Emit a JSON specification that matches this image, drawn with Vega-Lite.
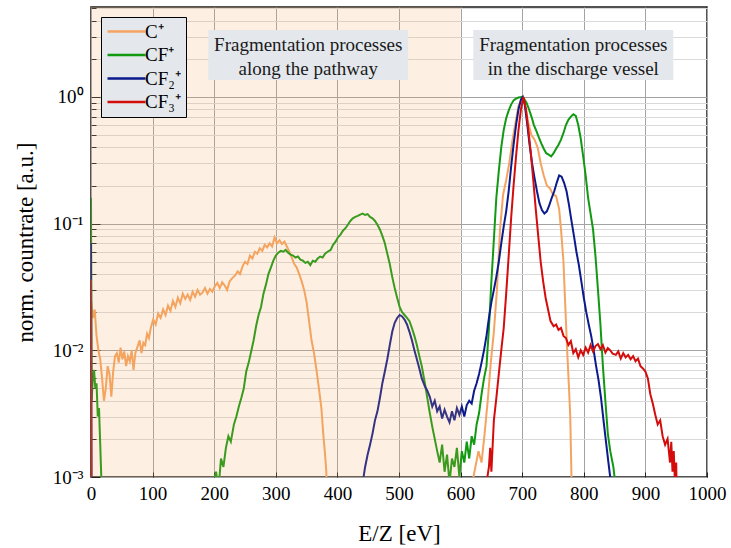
{
  "$schema": "https://vega.github.io/schema/vega-lite/v6.json",
  "width": 616,
  "height": 470,
  "autosize": {"type": "none"},
  "padding": {"left": 91, "top": 7, "right": 24, "bottom": 71},
  "background": "white",
  "config": {
    "view": {"stroke": "#1a1a1a", "strokeWidth": 1.5},
    "font": "Liberation Serif"
  },
  "datasets": {
    "curves": [
      {"s":"C⁺","e":0,"v":0.025},{"s":"C⁺","e":3,"v":0.018},{"s":"C⁺","e":6,"v":0.021},{"s":"C⁺","e":9,"v":0.013},{"s":"C⁺","e":12,"v":0.010},{"s":"C⁺","e":15,"v":0.0085},{"s":"C⁺","e":18,"v":0.006},{"s":"C⁺","e":21,"v":0.004},{"s":"C⁺","e":24,"v":0.005},{"s":"C⁺","e":27,"v":0.0075},{"s":"C⁺","e":30,"v":0.0065},{"s":"C⁺","e":33,"v":0.0043},{"s":"C⁺","e":36,"v":0.0068},{"s":"C⁺","e":39,"v":0.009},{"s":"C⁺","e":42,"v":0.0095},{"s":"C⁺","e":45,"v":0.008},{"s":"C⁺","e":48,"v":0.0105},{"s":"C⁺","e":51,"v":0.0085},{"s":"C⁺","e":54,"v":0.0098},{"s":"C⁺","e":57,"v":0.0075},{"s":"C⁺","e":60,"v":0.009},{"s":"C⁺","e":63,"v":0.0082},{"s":"C⁺","e":66,"v":0.010},{"s":"C⁺","e":69,"v":0.007},{"s":"C⁺","e":72,"v":0.0095},{"s":"C⁺","e":75,"v":0.0105},
      {"s":"C⁺","e":79,"v":0.012},{"s":"C⁺","e":82,"v":0.0095},{"s":"C⁺","e":85,"v":0.0115},{"s":"C⁺","e":88,"v":0.011},{"s":"C⁺","e":91,"v":0.0135},{"s":"C⁺","e":94,"v":0.0125},{"s":"C⁺","e":97,"v":0.015},{"s":"C⁺","e":101,"v":0.0175},{"s":"C⁺","e":105,"v":0.016},{"s":"C⁺","e":109,"v":0.0195},{"s":"C⁺","e":113,"v":0.018},{"s":"C⁺","e":117,"v":0.021},{"s":"C⁺","e":121,"v":0.019},{"s":"C⁺","e":125,"v":0.0225},{"s":"C⁺","e":129,"v":0.0205},{"s":"C⁺","e":133,"v":0.0245},{"s":"C⁺","e":137,"v":0.022},{"s":"C⁺","e":141,"v":0.026},{"s":"C⁺","e":145,"v":0.0235},{"s":"C⁺","e":149,"v":0.028},{"s":"C⁺","e":153,"v":0.0255},{"s":"C⁺","e":157,"v":0.0275},{"s":"C⁺","e":161,"v":0.025},{"s":"C⁺","e":165,"v":0.029},{"s":"C⁺","e":169,"v":0.0265},{"s":"C⁺","e":173,"v":0.030},{"s":"C⁺","e":177,"v":0.0275},{"s":"C⁺","e":181,"v":0.0285},{"s":"C⁺","e":185,"v":0.031},{"s":"C⁺","e":189,"v":0.028},{"s":"C⁺","e":193,"v":0.0305},{"s":"C⁺","e":197,"v":0.029},{"s":"C⁺","e":201,"v":0.032},{"s":"C⁺","e":205,"v":0.034},{"s":"C⁺","e":209,"v":0.031},{"s":"C⁺","e":213,"v":0.0345},{"s":"C⁺","e":217,"v":0.0325},{"s":"C⁺","e":221,"v":0.030},{"s":"C⁺","e":225,"v":0.035},{"s":"C⁺","e":229,"v":0.037},
      {"s":"C⁺","e":234,"v":0.039},{"s":"C⁺","e":238,"v":0.042},{"s":"C⁺","e":242,"v":0.040},{"s":"C⁺","e":246,"v":0.046},{"s":"C⁺","e":250,"v":0.050},{"s":"C⁺","e":254,"v":0.048},{"s":"C⁺","e":258,"v":0.056},{"s":"C⁺","e":262,"v":0.053},{"s":"C⁺","e":266,"v":0.060},{"s":"C⁺","e":270,"v":0.058},{"s":"C⁺","e":274,"v":0.064},{"s":"C⁺","e":278,"v":0.061},{"s":"C⁺","e":282,"v":0.068},{"s":"C⁺","e":286,"v":0.065},{"s":"C⁺","e":290,"v":0.070},{"s":"C⁺","e":294,"v":0.066},{"s":"C⁺","e":298,"v":0.078},{"s":"C⁺","e":302,"v":0.070},{"s":"C⁺","e":306,"v":0.074},{"s":"C⁺","e":310,"v":0.069},{"s":"C⁺","e":314,"v":0.072},{"s":"C⁺","e":318,"v":0.066},{"s":"C⁺","e":322,"v":0.060},{"s":"C⁺","e":326,"v":0.054},{"s":"C⁺","e":330,"v":0.048},{"s":"C⁺","e":334,"v":0.045},{"s":"C⁺","e":338,"v":0.040},{"s":"C⁺","e":342,"v":0.035},{"s":"C⁺","e":346,"v":0.030},{"s":"C⁺","e":350,"v":0.024},{"s":"C⁺","e":354,"v":0.017},{"s":"C⁺","e":358,"v":0.012},{"s":"C⁺","e":362,"v":0.0095},{"s":"C⁺","e":366,"v":0.007},{"s":"C⁺","e":370,"v":0.005},{"s":"C⁺","e":374,"v":0.0035},{"s":"C⁺","e":377,"v":0.0022},{"s":"C⁺","e":380,"v":0.0015},{"s":"C⁺","e":382,"v":0.0011},{"s":"C⁺","e":384,"v":0.0004},
      {"s":"C⁺","e":609,"v":0.0004},{"s":"C⁺","e":619,"v":0.0009},{"s":"C⁺","e":624,"v":0.0012},{"s":"C⁺","e":629,"v":0.0016},{"s":"C⁺","e":634,"v":0.0013},{"s":"C⁺","e":639,"v":0.0022},{"s":"C⁺","e":644,"v":0.004},{"s":"C⁺","e":649,"v":0.008},{"s":"C⁺","e":654,"v":0.014},{"s":"C⁺","e":659,"v":0.03},{"s":"C⁺","e":664,"v":0.09},{"s":"C⁺","e":669,"v":0.17},{"s":"C⁺","e":674,"v":0.22},{"s":"C⁺","e":679,"v":0.30},{"s":"C⁺","e":684,"v":0.45},{"s":"C⁺","e":689,"v":0.62},{"s":"C⁺","e":694,"v":0.85},{"s":"C⁺","e":700,"v":1.0},{"s":"C⁺","e":705,"v":0.85},{"s":"C⁺","e":710,"v":0.62},{"s":"C⁺","e":715,"v":0.50},{"s":"C⁺","e":720,"v":0.46},{"s":"C⁺","e":725,"v":0.40},{"s":"C⁺","e":730,"v":0.30},{"s":"C⁺","e":735,"v":0.24},{"s":"C⁺","e":740,"v":0.20},{"s":"C⁺","e":745,"v":0.19},{"s":"C⁺","e":750,"v":0.17},{"s":"C⁺","e":755,"v":0.165},{"s":"C⁺","e":760,"v":0.13},{"s":"C⁺","e":763,"v":0.09},{"s":"C⁺","e":767,"v":0.05},{"s":"C⁺","e":770,"v":0.022},{"s":"C⁺","e":773,"v":0.010},{"s":"C⁺","e":776,"v":0.005},{"s":"C⁺","e":778,"v":0.003},{"s":"C⁺","e":780,"v":0.001},{"s":"C⁺","e":782,"v":0.0004},

      {"s":"CF⁺","e":0,"v":0.16},{"s":"CF⁺","e":1,"v":0.004},{"s":"CF⁺","e":3,"v":0.006},{"s":"CF⁺","e":5,"v":0.007},{"s":"CF⁺","e":7,"v":0.005},{"s":"CF⁺","e":9,"v":0.0055},{"s":"CF⁺","e":11,"v":0.003},{"s":"CF⁺","e":13,"v":0.0035},{"s":"CF⁺","e":15,"v":0.0018},{"s":"CF⁺","e":17,"v":0.0009},{"s":"CF⁺","e":19,"v":0.0003},
      {"s":"CF⁺","e":191,"v":0.0003},{"s":"CF⁺","e":199,"v":0.0009},{"s":"CF⁺","e":203,"v":0.0011},{"s":"CF⁺","e":207,"v":0.0008},{"s":"CF⁺","e":211,"v":0.0014},{"s":"CF⁺","e":215,"v":0.0012},{"s":"CF⁺","e":219,"v":0.0017},{"s":"CF⁺","e":223,"v":0.0021},{"s":"CF⁺","e":227,"v":0.0019},{"s":"CF⁺","e":232,"v":0.0026},{"s":"CF⁺","e":236,"v":0.003},{"s":"CF⁺","e":240,"v":0.0036},{"s":"CF⁺","e":244,"v":0.0042},{"s":"CF⁺","e":248,"v":0.005},{"s":"CF⁺","e":252,"v":0.0068},{"s":"CF⁺","e":256,"v":0.008},{"s":"CF⁺","e":260,"v":0.0098},{"s":"CF⁺","e":264,"v":0.012},{"s":"CF⁺","e":268,"v":0.0155},{"s":"CF⁺","e":272,"v":0.019},{"s":"CF⁺","e":276,"v":0.022},{"s":"CF⁺","e":280,"v":0.028},{"s":"CF⁺","e":284,"v":0.033},{"s":"CF⁺","e":288,"v":0.040},{"s":"CF⁺","e":292,"v":0.045},{"s":"CF⁺","e":296,"v":0.051},{"s":"CF⁺","e":300,"v":0.056},{"s":"CF⁺","e":304,"v":0.059},{"s":"CF⁺","e":308,"v":0.061},{"s":"CF⁺","e":312,"v":0.060},{"s":"CF⁺","e":316,"v":0.062},{"s":"CF⁺","e":320,"v":0.059},{"s":"CF⁺","e":324,"v":0.057},{"s":"CF⁺","e":328,"v":0.056},{"s":"CF⁺","e":332,"v":0.054},{"s":"CF⁺","e":336,"v":0.055},{"s":"CF⁺","e":340,"v":0.052},{"s":"CF⁺","e":344,"v":0.051},{"s":"CF⁺","e":348,"v":0.049},{"s":"CF⁺","e":352,"v":0.050},{"s":"CF⁺","e":356,"v":0.047},{"s":"CF⁺","e":360,"v":0.051},{"s":"CF⁺","e":364,"v":0.050},{"s":"CF⁺","e":368,"v":0.053},{"s":"CF⁺","e":372,"v":0.055},{"s":"CF⁺","e":376,"v":0.054},{"s":"CF⁺","e":380,"v":0.058},{"s":"CF⁺","e":384,"v":0.060},
      {"s":"CF⁺","e":389,"v":0.062},{"s":"CF⁺","e":393,"v":0.068},{"s":"CF⁺","e":397,"v":0.072},{"s":"CF⁺","e":401,"v":0.078},{"s":"CF⁺","e":405,"v":0.082},{"s":"CF⁺","e":409,"v":0.088},{"s":"CF⁺","e":413,"v":0.092},{"s":"CF⁺","e":417,"v":0.098},{"s":"CF⁺","e":421,"v":0.105},{"s":"CF⁺","e":425,"v":0.110},{"s":"CF⁺","e":429,"v":0.113},{"s":"CF⁺","e":433,"v":0.115},{"s":"CF⁺","e":437,"v":0.118},{"s":"CF⁺","e":441,"v":0.120},{"s":"CF⁺","e":445,"v":0.117},{"s":"CF⁺","e":449,"v":0.119},{"s":"CF⁺","e":453,"v":0.113},{"s":"CF⁺","e":457,"v":0.110},{"s":"CF⁺","e":461,"v":0.105},{"s":"CF⁺","e":465,"v":0.098},{"s":"CF⁺","e":469,"v":0.090},{"s":"CF⁺","e":473,"v":0.080},{"s":"CF⁺","e":477,"v":0.070},{"s":"CF⁺","e":481,"v":0.058},{"s":"CF⁺","e":485,"v":0.048},{"s":"CF⁺","e":489,"v":0.038},{"s":"CF⁺","e":493,"v":0.031},{"s":"CF⁺","e":497,"v":0.026},{"s":"CF⁺","e":501,"v":0.022},{"s":"CF⁺","e":505,"v":0.020},{"s":"CF⁺","e":509,"v":0.019},{"s":"CF⁺","e":513,"v":0.018},{"s":"CF⁺","e":517,"v":0.017},{"s":"CF⁺","e":521,"v":0.015},{"s":"CF⁺","e":525,"v":0.013},{"s":"CF⁺","e":529,"v":0.011},{"s":"CF⁺","e":533,"v":0.009},{"s":"CF⁺","e":537,"v":0.0075},
      {"s":"CF⁺","e":542,"v":0.0055},{"s":"CF⁺","e":546,"v":0.0042},{"s":"CF⁺","e":550,"v":0.0032},{"s":"CF⁺","e":554,"v":0.0025},{"s":"CF⁺","e":558,"v":0.002},{"s":"CF⁺","e":562,"v":0.0016},{"s":"CF⁺","e":566,"v":0.0013},{"s":"CF⁺","e":570,"v":0.0018},{"s":"CF⁺","e":574,"v":0.0011},{"s":"CF⁺","e":578,"v":0.0015},{"s":"CF⁺","e":582,"v":0.0009},{"s":"CF⁺","e":586,"v":0.0014},{"s":"CF⁺","e":590,"v":0.0012},{"s":"CF⁺","e":594,"v":0.0017},{"s":"CF⁺","e":598,"v":0.001},{"s":"CF⁺","e":602,"v":0.0016},{"s":"CF⁺","e":606,"v":0.0013},{"s":"CF⁺","e":610,"v":0.0019},{"s":"CF⁺","e":614,"v":0.0014},{"s":"CF⁺","e":618,"v":0.0021},{"s":"CF⁺","e":622,"v":0.0018},{"s":"CF⁺","e":626,"v":0.0026},{"s":"CF⁺","e":630,"v":0.0032},{"s":"CF⁺","e":634,"v":0.0045},{"s":"CF⁺","e":638,"v":0.006},{"s":"CF⁺","e":642,"v":0.0075},{"s":"CF⁺","e":646,"v":0.015},{"s":"CF⁺","e":650,"v":0.035},{"s":"CF⁺","e":654,"v":0.075},{"s":"CF⁺","e":658,"v":0.16},{"s":"CF⁺","e":662,"v":0.26},{"s":"CF⁺","e":666,"v":0.40},{"s":"CF⁺","e":670,"v":0.55},{"s":"CF⁺","e":674,"v":0.68},{"s":"CF⁺","e":678,"v":0.78},{"s":"CF⁺","e":682,"v":0.87},{"s":"CF⁺","e":686,"v":0.94},{"s":"CF⁺","e":690,"v":0.97},{"s":"CF⁺","e":694,"v":0.99},
      {"s":"CF⁺","e":699,"v":1.0},{"s":"CF⁺","e":703,"v":0.97},{"s":"CF⁺","e":707,"v":0.90},{"s":"CF⁺","e":711,"v":0.80},{"s":"CF⁺","e":715,"v":0.70},{"s":"CF⁺","e":719,"v":0.60},{"s":"CF⁺","e":723,"v":0.54},{"s":"CF⁺","e":727,"v":0.48},{"s":"CF⁺","e":731,"v":0.43},{"s":"CF⁺","e":735,"v":0.39},{"s":"CF⁺","e":739,"v":0.36},{"s":"CF⁺","e":743,"v":0.35},{"s":"CF⁺","e":747,"v":0.34},{"s":"CF⁺","e":751,"v":0.36},{"s":"CF⁺","e":755,"v":0.39},{"s":"CF⁺","e":759,"v":0.42},{"s":"CF⁺","e":763,"v":0.46},{"s":"CF⁺","e":767,"v":0.52},{"s":"CF⁺","e":771,"v":0.60},{"s":"CF⁺","e":775,"v":0.66},{"s":"CF⁺","e":779,"v":0.70},{"s":"CF⁺","e":783,"v":0.73},{"s":"CF⁺","e":787,"v":0.71},{"s":"CF⁺","e":791,"v":0.60},{"s":"CF⁺","e":795,"v":0.47},{"s":"CF⁺","e":799,"v":0.34},{"s":"CF⁺","e":803,"v":0.24},{"s":"CF⁺","e":807,"v":0.16},{"s":"CF⁺","e":811,"v":0.12},{"s":"CF⁺","e":815,"v":0.09},{"s":"CF⁺","e":819,"v":0.055},{"s":"CF⁺","e":823,"v":0.030},{"s":"CF⁺","e":827,"v":0.016},{"s":"CF⁺","e":831,"v":0.0075},{"s":"CF⁺","e":835,"v":0.004},{"s":"CF⁺","e":839,"v":0.0022},{"s":"CF⁺","e":843,"v":0.0016},{"s":"CF⁺","e":848,"v":0.0012},{"s":"CF⁺","e":851,"v":0.0009},{"s":"CF⁺","e":854,"v":0.0003},

      {"s":"CF₂⁺","e":0,"v":0.07},{"s":"CF₂⁺","e":1,"v":0.0003},{"s":"CF₂⁺","e":433,"v":0.0003},{"s":"CF₂⁺","e":441,"v":0.0009},{"s":"CF₂⁺","e":445,"v":0.0012},{"s":"CF₂⁺","e":449,"v":0.0015},{"s":"CF₂⁺","e":453,"v":0.0018},{"s":"CF₂⁺","e":457,"v":0.0022},{"s":"CF₂⁺","e":461,"v":0.0028},{"s":"CF₂⁺","e":465,"v":0.0033},{"s":"CF₂⁺","e":469,"v":0.0042},{"s":"CF₂⁺","e":473,"v":0.0055},{"s":"CF₂⁺","e":477,"v":0.0068},{"s":"CF₂⁺","e":481,"v":0.0085},{"s":"CF₂⁺","e":485,"v":0.011},{"s":"CF₂⁺","e":489,"v":0.014},{"s":"CF₂⁺","e":493,"v":0.0165},{"s":"CF₂⁺","e":497,"v":0.018},{"s":"CF₂⁺","e":501,"v":0.019},{"s":"CF₂⁺","e":505,"v":0.0185},{"s":"CF₂⁺","e":509,"v":0.0175},{"s":"CF₂⁺","e":513,"v":0.016},{"s":"CF₂⁺","e":517,"v":0.014},{"s":"CF₂⁺","e":521,"v":0.012},{"s":"CF₂⁺","e":525,"v":0.010},{"s":"CF₂⁺","e":529,"v":0.0085},{"s":"CF₂⁺","e":533,"v":0.0072},{"s":"CF₂⁺","e":537,"v":0.006},
      {"s":"CF₂⁺","e":542,"v":0.0052},{"s":"CF₂⁺","e":546,"v":0.0048},{"s":"CF₂⁺","e":550,"v":0.0043},{"s":"CF₂⁺","e":554,"v":0.0036},{"s":"CF₂⁺","e":558,"v":0.004},{"s":"CF₂⁺","e":562,"v":0.0033},{"s":"CF₂⁺","e":566,"v":0.0036},{"s":"CF₂⁺","e":570,"v":0.0029},{"s":"CF₂⁺","e":574,"v":0.0034},{"s":"CF₂⁺","e":578,"v":0.003},{"s":"CF₂⁺","e":582,"v":0.0027},{"s":"CF₂⁺","e":586,"v":0.0033},{"s":"CF₂⁺","e":590,"v":0.0028},{"s":"CF₂⁺","e":594,"v":0.0035},{"s":"CF₂⁺","e":598,"v":0.0031},{"s":"CF₂⁺","e":602,"v":0.0036},{"s":"CF₂⁺","e":606,"v":0.003},{"s":"CF₂⁺","e":610,"v":0.0037},{"s":"CF₂⁺","e":614,"v":0.004},{"s":"CF₂⁺","e":618,"v":0.0038},{"s":"CF₂⁺","e":622,"v":0.0048},{"s":"CF₂⁺","e":626,"v":0.0055},{"s":"CF₂⁺","e":630,"v":0.0065},{"s":"CF₂⁺","e":634,"v":0.008},{"s":"CF₂⁺","e":638,"v":0.010},{"s":"CF₂⁺","e":642,"v":0.013},{"s":"CF₂⁺","e":646,"v":0.018},{"s":"CF₂⁺","e":650,"v":0.024},{"s":"CF₂⁺","e":654,"v":0.030},{"s":"CF₂⁺","e":658,"v":0.038},{"s":"CF₂⁺","e":662,"v":0.05},{"s":"CF₂⁺","e":666,"v":0.07},{"s":"CF₂⁺","e":670,"v":0.095},{"s":"CF₂⁺","e":674,"v":0.125},{"s":"CF₂⁺","e":678,"v":0.18},{"s":"CF₂⁺","e":682,"v":0.28},{"s":"CF₂⁺","e":686,"v":0.42},{"s":"CF₂⁺","e":690,"v":0.60},{"s":"CF₂⁺","e":694,"v":0.80},
      {"s":"CF₂⁺","e":698,"v":0.95},{"s":"CF₂⁺","e":701,"v":1.0},{"s":"CF₂⁺","e":704,"v":0.88},{"s":"CF₂⁺","e":708,"v":0.62},{"s":"CF₂⁺","e":712,"v":0.42},{"s":"CF₂⁺","e":716,"v":0.30},{"s":"CF₂⁺","e":720,"v":0.23},{"s":"CF₂⁺","e":724,"v":0.18},{"s":"CF₂⁺","e":728,"v":0.145},{"s":"CF₂⁺","e":732,"v":0.128},{"s":"CF₂⁺","e":736,"v":0.12},{"s":"CF₂⁺","e":740,"v":0.125},{"s":"CF₂⁺","e":744,"v":0.14},{"s":"CF₂⁺","e":748,"v":0.16},{"s":"CF₂⁺","e":752,"v":0.18},{"s":"CF₂⁺","e":756,"v":0.21},{"s":"CF₂⁺","e":760,"v":0.24},{"s":"CF₂⁺","e":764,"v":0.235},{"s":"CF₂⁺","e":768,"v":0.21},{"s":"CF₂⁺","e":772,"v":0.18},{"s":"CF₂⁺","e":776,"v":0.14},{"s":"CF₂⁺","e":780,"v":0.105},{"s":"CF₂⁺","e":784,"v":0.08},{"s":"CF₂⁺","e":788,"v":0.06},{"s":"CF₂⁺","e":792,"v":0.047},{"s":"CF₂⁺","e":796,"v":0.035},{"s":"CF₂⁺","e":800,"v":0.026},{"s":"CF₂⁺","e":804,"v":0.020},{"s":"CF₂⁺","e":808,"v":0.016},{"s":"CF₂⁺","e":812,"v":0.013},{"s":"CF₂⁺","e":816,"v":0.010},{"s":"CF₂⁺","e":820,"v":0.0075},{"s":"CF₂⁺","e":824,"v":0.0058},{"s":"CF₂⁺","e":828,"v":0.0042},{"s":"CF₂⁺","e":832,"v":0.0028},{"s":"CF₂⁺","e":836,"v":0.0019},{"s":"CF₂⁺","e":840,"v":0.0013},{"s":"CF₂⁺","e":844,"v":0.0009},{"s":"CF₂⁺","e":849,"v":0.0003},

      {"s":"CF₃⁺","e":0,"v":0.036},{"s":"CF₃⁺","e":1,"v":0.0003},{"s":"CF₃⁺","e":636,"v":0.0003},{"s":"CF₃⁺","e":642,"v":0.0009},{"s":"CF₃⁺","e":646,"v":0.0012},{"s":"CF₃⁺","e":648,"v":0.0017},{"s":"CF₃⁺","e":650,"v":0.0011},{"s":"CF₃⁺","e":654,"v":0.0028},{"s":"CF₃⁺","e":658,"v":0.0042},{"s":"CF₃⁺","e":662,"v":0.0065},{"s":"CF₃⁺","e":666,"v":0.010},{"s":"CF₃⁺","e":670,"v":0.015},{"s":"CF₃⁺","e":674,"v":0.028},{"s":"CF₃⁺","e":678,"v":0.055},{"s":"CF₃⁺","e":682,"v":0.11},{"s":"CF₃⁺","e":686,"v":0.20},{"s":"CF₃⁺","e":690,"v":0.34},{"s":"CF₃⁺","e":694,"v":0.55},{"s":"CF₃⁺","e":698,"v":0.80},{"s":"CF₃⁺","e":702,"v":1.0},{"s":"CF₃⁺","e":706,"v":0.80},{"s":"CF₃⁺","e":710,"v":0.55},{"s":"CF₃⁺","e":714,"v":0.36},{"s":"CF₃⁺","e":718,"v":0.22},{"s":"CF₃⁺","e":722,"v":0.13},{"s":"CF₃⁺","e":726,"v":0.080},{"s":"CF₃⁺","e":730,"v":0.050},{"s":"CF₃⁺","e":734,"v":0.035},{"s":"CF₃⁺","e":738,"v":0.026},{"s":"CF₃⁺","e":742,"v":0.021},{"s":"CF₃⁺","e":746,"v":0.017},{"s":"CF₃⁺","e":751,"v":0.0155},{"s":"CF₃⁺","e":755,"v":0.016},{"s":"CF₃⁺","e":759,"v":0.0145},{"s":"CF₃⁺","e":763,"v":0.015},{"s":"CF₃⁺","e":767,"v":0.013},{"s":"CF₃⁺","e":771,"v":0.0125},{"s":"CF₃⁺","e":775,"v":0.011},{"s":"CF₃⁺","e":779,"v":0.0118},{"s":"CF₃⁺","e":783,"v":0.0095},{"s":"CF₃⁺","e":787,"v":0.0102},{"s":"CF₃⁺","e":791,"v":0.0088},{"s":"CF₃⁺","e":795,"v":0.010},{"s":"CF₃⁺","e":799,"v":0.0092},{"s":"CF₃⁺","e":803,"v":0.0105},{"s":"CF₃⁺","e":807,"v":0.0096},{"s":"CF₃⁺","e":811,"v":0.011},{"s":"CF₃⁺","e":815,"v":0.0098},{"s":"CF₃⁺","e":819,"v":0.0108},{"s":"CF₃⁺","e":823,"v":0.0112},{"s":"CF₃⁺","e":827,"v":0.0102},{"s":"CF₃⁺","e":831,"v":0.011},{"s":"CF₃⁺","e":835,"v":0.0096},{"s":"CF₃⁺","e":839,"v":0.0104},{"s":"CF₃⁺","e":843,"v":0.010},{"s":"CF₃⁺","e":847,"v":0.0094},{"s":"CF₃⁺","e":852,"v":0.0092},{"s":"CF₃⁺","e":856,"v":0.0098},{"s":"CF₃⁺","e":860,"v":0.0086},{"s":"CF₃⁺","e":864,"v":0.0095},{"s":"CF₃⁺","e":868,"v":0.0088},{"s":"CF₃⁺","e":872,"v":0.0092},{"s":"CF₃⁺","e":876,"v":0.0085},{"s":"CF₃⁺","e":880,"v":0.009},{"s":"CF₃⁺","e":884,"v":0.0082},{"s":"CF₃⁺","e":888,"v":0.0086},{"s":"CF₃⁺","e":892,"v":0.0075},{"s":"CF₃⁺","e":896,"v":0.0072},{"s":"CF₃⁺","e":900,"v":0.0068},{"s":"CF₃⁺","e":904,"v":0.006},{"s":"CF₃⁺","e":908,"v":0.0045},{"s":"CF₃⁺","e":912,"v":0.0038},{"s":"CF₃⁺","e":916,"v":0.0031},{"s":"CF₃⁺","e":920,"v":0.0026},{"s":"CF₃⁺","e":924,"v":0.0028},{"s":"CF₃⁺","e":928,"v":0.0021},{"s":"CF₃⁺","e":932,"v":0.0018},{"s":"CF₃⁺","e":936,"v":0.002},{"s":"CF₃⁺","e":940,"v":0.0013},{"s":"CF₃⁺","e":942,"v":0.0019},{"s":"CF₃⁺","e":944,"v":0.0011},{"s":"CF₃⁺","e":946,"v":0.0016},{"s":"CF₃⁺","e":948,"v":0.0009},{"s":"CF₃⁺","e":950,"v":0.0013},{"s":"CF₃⁺","e":952,"v":0.0003}
    ],
    "region": [{"a": 0, "b": 600}],
    "notes": [
      {"e1": 190.4, "e2": 515, "v1": 1.362, "v2": 3.38, "ec": 352.7, "vc": 2.57, "t": ["Fragmentation processes", "along the pathway"]},
      {"e1": 620.6, "e2": 945.3, "v1": 1.362, "v2": 3.38, "ec": 783, "vc": 2.57, "t": ["Fragmentation processes", "in the discharge vessel"]}
    ]
  },
  "layer": [
    {
      "data": {"name": "curves"},
      "mark": {"type": "line", "strokeWidth": 2, "clip": true},
      "encoding": {
        "x": {
          "field": "e", "type": "quantitative",
          "scale": {"domain": [0, 1000], "nice": false, "zero": false},
          "axis": {
            "values": [0,50,100,150,200,250,300,350,400,450,500,550,600,650,700,750,800,850,900,950,1000],
            "labelExpr": "datum.value % 100 === 0 ? datum.label : ''",
            "format": "d",
            "grid": true,
            "gridColor": {"condition": {"test": "datum.value % 100 === 0", "value": "#a3a3a3"}, "value": "#d9d9d9"},
            "gridWidth": 1,
            "domain": false,
            "ticks": true,
            "tickSize": -5,
            "tickColor": "#222",
            "tickWidth": 1,
            "labelFont": "Liberation Serif",
            "labelFontSize": 19,
            "labelColor": "#000",
            "labelPadding": 12,
            "labelOverlap": false,
            "labelFlush": false,
            "title": "E/Z [eV]",
            "titleFont": "Liberation Serif",
            "titleFontSize": 23,
            "titleFontWeight": "normal",
            "titleColor": "#000",
            "titlePadding": 19
          }
        },
        "y": {
          "field": "v", "type": "quantitative",
          "scale": {"type": "log", "domain": [0.001, 5.13], "nice": false},
          "axis": {
            "values": [0.001,0.002,0.003,0.004,0.005,0.006,0.007,0.008,0.009,0.01,0.02,0.03,0.04,0.05,0.06,0.07,0.08,0.09,0.1,0.2,0.3,0.4,0.5,0.6,0.7,0.8,0.9,1,2,3,4,5],
            "labelExpr": "datum.value === 1 ? '10⁰' : datum.value === 0.1 ? '10⁻¹' : datum.value === 0.01 ? '10⁻²' : datum.value === 0.001 ? '10⁻³' : ''",
            "grid": true,
            "gridColor": {"condition": {"test": "datum.value === 1 || datum.value === 0.1 || datum.value === 0.01 || datum.value === 0.001", "value": "#a3a3a3"}, "value": "#d9d9d9"},
            "gridWidth": 1,
            "domain": false,
            "ticks": true,
            "tickSize": {"condition": {"test": "datum.value === 1 || datum.value === 0.1 || datum.value === 0.01 || datum.value === 0.001", "value": -9}, "value": -5},
            "tickColor": "#222",
            "tickWidth": 1,
            "labelFont": "Liberation Serif",
            "labelFontSize": 19,
            "labelColor": "#000",
            "labelPadding": 17,
            "labelOverlap": false,
            "labelFlush": false,
            "title": "norm. countrate [a.u.]",
            "titleFont": "Liberation Serif",
            "titleFontSize": 23,
            "titleFontWeight": "normal",
            "titleColor": "#000",
            "titlePadding": 15
          }
        },
        "color": {
          "field": "s", "type": "nominal",
          "scale": {"domain": ["C⁺", "CF⁺", "CF₂⁺", "CF₃⁺"], "range": ["#f4a460", "#129912", "#0b1a8c", "#d40c0c"]},
          "legend": {
            "title": null,
            "orient": "none",
            "legendX": 10,
            "legendY": 10,
            "fillColor": "#e4e8ec",
            "strokeColor": "#000",
            "padding": 5,
            "symbolType": "M-3.8,0H3.8",
            "symbolSize": 100,
            "symbolStrokeWidth": 2.5,
            "symbolOffset": 11,
            "labelOffset": 9,
            "labelFont": "Liberation Serif",
            "labelFontSize": 19,
            "labelColor": "#000",
            "rowPadding": 3.5
          }
        }
      }
    },
    {
      "data": {"name": "region"},
      "mark": {"type": "rect", "color": "#f4a460", "opacity": 0.18},
      "encoding": {
        "x": {"field": "a", "type": "quantitative", "scale": {"domain": [0, 1000], "nice": false, "zero": false}},
        "x2": {"field": "b"}
      }
    },
    {
      "data": {"name": "notes"},
      "mark": {"type": "rect", "color": "#e4e8ec", "opacity": 1},
      "encoding": {
        "x": {"field": "e1", "type": "quantitative"},
        "x2": {"field": "e2"},
        "y": {"field": "v1", "type": "quantitative", "scale": {"type": "log"}},
        "y2": {"field": "v2"}
      }
    },
    {
      "data": {"name": "notes"},
      "mark": {"type": "text", "align": "center", "baseline": "middle", "lineHeight": 24, "font": "Liberation Serif", "fontSize": 19, "color": "#1a1a1a"},
      "encoding": {
        "x": {"field": "ec", "type": "quantitative"},
        "y": {"field": "vc", "type": "quantitative", "scale": {"type": "log"}},
        "text": {"field": "t"}
      }
    }
  ]
}
